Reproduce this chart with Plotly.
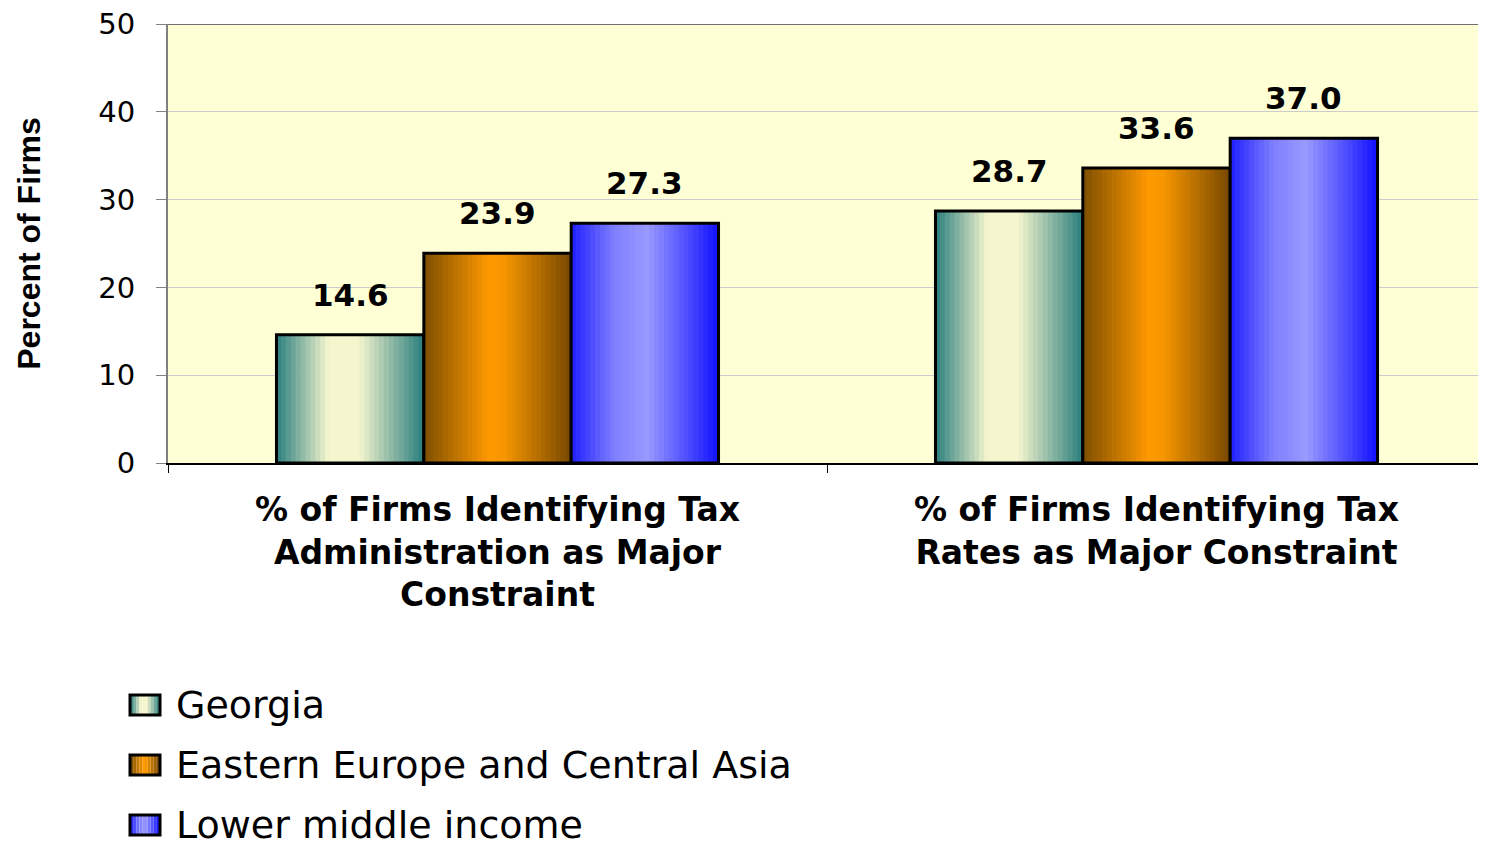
import plotly.graph_objects as go

categories = [
    "% of Firms Identifying Tax<br>Administration as Major<br>Constraint",
    "% of Firms Identifying Tax<br>Rates as Major Constraint",
]
series_names = ["Georgia", "Eastern Europe and Central Asia", "Lower middle income"]
georgia = [14.6, 28.7]
eastern_europe = [23.9, 33.6]
lower_middle = [27.3, 37.0]
y_ticks = [0, 10, 20, 30, 40, 50]

# horizontal "cylinder" shading of each series: (position across bar, colour)
_GRAD = [
    [(0.0, (42, 126, 126)), (0.36, (246, 246, 206)), (0.56, (246, 246, 206)), (1.0, (42, 126, 126))],
    [(0.0, (125, 78, 0)), (0.45, (255, 153, 0)), (0.55, (246, 150, 0)), (1.0, (120, 72, 0))],
    [(0.0, (30, 30, 255)), (0.3, (128, 128, 255)), (0.52, (153, 153, 255)), (1.0, (18, 18, 255))],
]
_FONT = "DejaVu Sans, Arial, sans-serif"

# page body has an 8px margin, so the figure is 8px smaller than the window
PAGE_PAD = 8
W, H = 1486 - PAGE_PAD, 843 - PAGE_PAD
M = dict(l=160, r=0, t=16, b=380)
BAR_W = 0.2236
N_STRIPS = 30


def _lerp(stops, t):
    for (p0, c0), (p1, c1) in zip(stops, stops[1:]):
        if p0 <= t <= p1:
            f = 0 if p1 == p0 else (t - p0) / (p1 - p0)
            r, g, b = (round(a + (b_ - a) * f) for a, b_ in zip(c0, c1))
            return f"rgb({r},{g},{b})"
    return "rgb(%d,%d,%d)" % stops[-1][1]


def _px(x, y):
    """window pixel -> paper coords (for the hand-built legend)"""
    pw = W - M["l"] - M["r"]
    ph = H - M["t"] - M["b"]
    return (x - PAGE_PAD - M["l"]) / pw, (H - M["b"] - (y - PAGE_PAD)) / ph


fig = go.Figure()
values = [georgia, eastern_europe, lower_middle]
annotations = []
shapes = []

for s, (name, vals) in enumerate(zip(series_names, values)):
    base = (s - 1.5) * BAR_W
    sw = BAR_W / N_STRIPS
    for k in range(N_STRIPS):
        col = _lerp(_GRAD[s], (k + 0.5) / N_STRIPS)
        fig.add_trace(go.Bar(
            x=categories, y=vals, width=sw, offset=base + k * sw,
            marker=dict(color=col, line=dict(color=col, width=1)),
            showlegend=False, hoverinfo="skip",
        ))
    # outline
    fig.add_trace(go.Bar(
        x=categories, y=vals, width=BAR_W, offset=base, name=name,
        marker=dict(color="rgba(0,0,0,0)", line=dict(color="black", width=3)),
        showlegend=False,
        hovertemplate="%{x}<br>" + name + ": <b>%{y:.1f}</b><extra></extra>",
    ))
    for i, v in enumerate(vals):
        annotations.append(dict(
            x=i + base + BAR_W / 2, y=v, xref="x", yref="y",
            text=f"<b>{v:.1f}</b>", showarrow=False, yanchor="bottom", yshift=20,
            font=dict(family=_FONT, size=31, color="black"),
        ))

    # legend row: shaded swatch + label
    cy = 705 + 60 * s
    n_sw = 10
    for k in range(n_sw):
        x0, y0 = _px(131 + 28 * k / n_sw, cy + 10)
        x1, y1 = _px(131 + 28 * (k + 1) / n_sw, cy - 10)
        col = _lerp(_GRAD[s], (k + 0.5) / n_sw)
        shapes.append(dict(type="rect", xref="paper", yref="paper",
                           x0=x0, x1=x1, y0=y0, y1=y1,
                           fillcolor=col, line=dict(width=0), layer="above"))
    x0, y0 = _px(130, cy + 10)
    x1, y1 = _px(160, cy - 10)
    shapes.append(dict(type="rect", xref="paper", yref="paper",
                       x0=x0, x1=x1, y0=y0, y1=y1,
                       line=dict(color="black", width=3), layer="above"))
    tx, ty = _px(174, cy)
    annotations.append(dict(
        x=tx, y=ty, xref="paper", yref="paper", text=name, showarrow=False,
        xanchor="left", yanchor="middle",
        font=dict(family=_FONT, size=38, color="black"),
    ))

shapes.append(dict(type="line", xref="paper", yref="y", x0=0, x1=1, y0=50, y1=50,
                   line=dict(color="#707070", width=2)))

fig.update_layout(
    width=W, height=H,
    paper_bgcolor="white",
    plot_bgcolor="#ffffd6",
    barmode="overlay",
    showlegend=False,
    margin=M,
    font=dict(family=_FONT, color="black"),
    annotations=annotations,
    shapes=shapes,
    xaxis=dict(
        type="category", tickson="boundaries", ticks="outside", ticklen=8,
        tickcolor="black", showline=True, linecolor="black", linewidth=2,
        tickfont=dict(family=_FONT, size=33, weight="bold"),
        ticklabelstandoff=16, automargin=False,
    ),
    yaxis=dict(
        range=[0, 50], tickvals=y_ticks, ticks="outside", ticklen=10,
        tickcolor="#808080", showline=True, linecolor="#808080", linewidth=2,
        gridcolor="#cccccc", gridwidth=1, zeroline=False,
        tickfont=dict(family=_FONT, size=29),
        ticklabelstandoff=15, automargin=False, ticklabeloverflow="allow",
        title=dict(text="Percent of Firms", standoff=48,
                   font=dict(family="Liberation Sans, Arial", size=32, weight="bold")),
    ),
)

fig.write_html("out.html")
